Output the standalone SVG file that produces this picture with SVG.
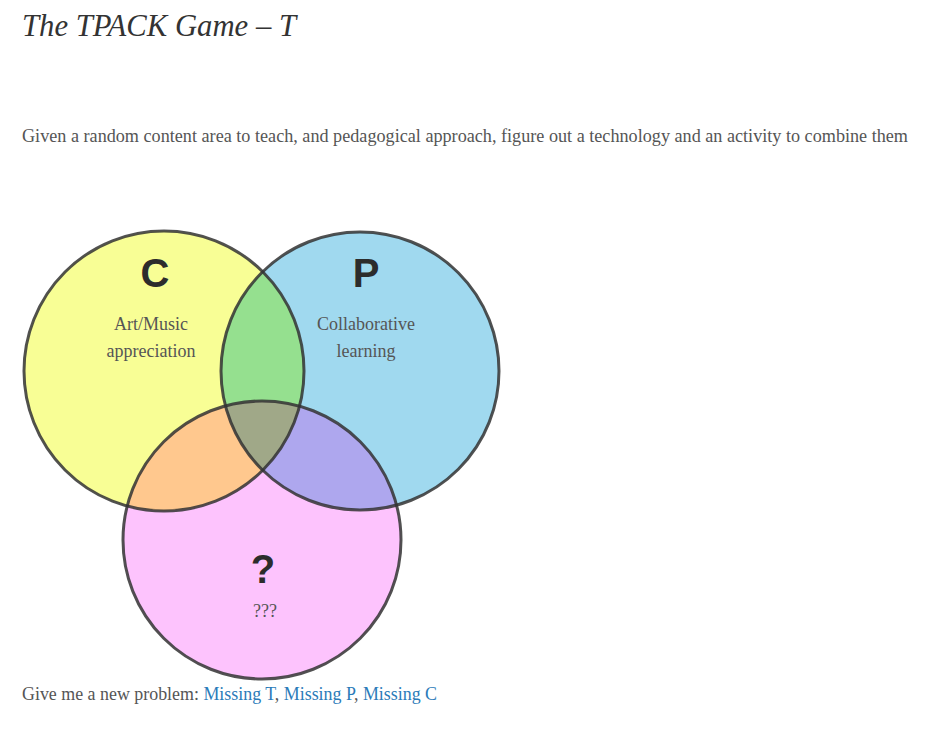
<svg xmlns="http://www.w3.org/2000/svg" width="947" height="731" viewBox="0 0 947 731">
<style>
.serif{font-family:"Liberation Serif","DejaVu Serif",serif;fill:#555;}
.title{font-family:"Liberation Serif","DejaVu Serif",serif;font-style:italic;font-size:30.5px;fill:#333;}
.big{font-family:"Liberation Sans","DejaVu Sans",sans-serif;font-weight:bold;font-size:40px;fill:#2c2c2c;text-anchor:middle;}
.lbl{font-family:"Liberation Serif","DejaVu Serif",serif;font-size:18px;fill:#555;text-anchor:middle;}
.ring{fill:none;stroke:#333;stroke-width:3;stroke-opacity:0.85;}
.link{fill:#2b7bb9;}
</style>
<defs>
<clipPath id="cC"><circle cx="164" cy="371" r="140"/></clipPath>
<clipPath id="cP"><circle cx="360" cy="371" r="139"/></clipPath>
<clipPath id="cT"><circle cx="262" cy="540" r="139"/></clipPath>
</defs>
<rect width="947" height="731" fill="#fff"/>
<text class="title" x="22" y="36" textLength="274" lengthAdjust="spacingAndGlyphs">The TPACK Game – T</text>
<text class="serif" x="22" y="142" font-size="18" textLength="886" lengthAdjust="spacingAndGlyphs">Given a random content area to teach, and pedagogical approach, figure out a technology and an activity to combine them</text>
<g id="fills">
<circle cx="164" cy="371" r="140" fill="#f8fe95"/>
<circle cx="360" cy="371" r="139" fill="#a0d9ef"/>
<circle cx="262" cy="540" r="139" fill="#fdc3fd"/>
<g clip-path="url(#cC)"><circle cx="360" cy="371" r="139" fill="#95e08f"/><circle cx="262" cy="540" r="139" fill="#ffc88e"/></g>
<g clip-path="url(#cP)"><circle cx="262" cy="540" r="139" fill="#aea7ee"/></g>
<g clip-path="url(#cC)"><g clip-path="url(#cP)"><circle cx="262" cy="540" r="139" fill="#a0a888"/></g></g>
</g>
<g id="node-C">
<circle class="ring" cx="164" cy="371" r="140"/>
<text class="big" x="155" y="287">C</text>
<text class="lbl" x="151" y="330">Art/Music</text>
<text class="lbl" x="151" y="357">appreciation</text>
</g>
<g id="node-P">
<circle class="ring" cx="360" cy="371" r="139"/>
<text class="big" x="366" y="287">P</text>
<text class="lbl" x="366" y="330">Collaborative</text>
<text class="lbl" x="366" y="357">learning</text>
</g>
<g id="node-T">
<circle class="ring" cx="262" cy="540" r="139"/>
<text class="big" x="263" y="583">?</text>
<text class="lbl" x="265" y="617" font-size="14">???</text>
</g>
<g id="connectors"></g>
<text class="serif" x="22" y="700" font-size="18" textLength="415" lengthAdjust="spacingAndGlyphs">Give me a new problem: <tspan class="link">Missing T</tspan>, <tspan class="link">Missing P</tspan>, <tspan class="link">Missing C</tspan></text>
</svg>
